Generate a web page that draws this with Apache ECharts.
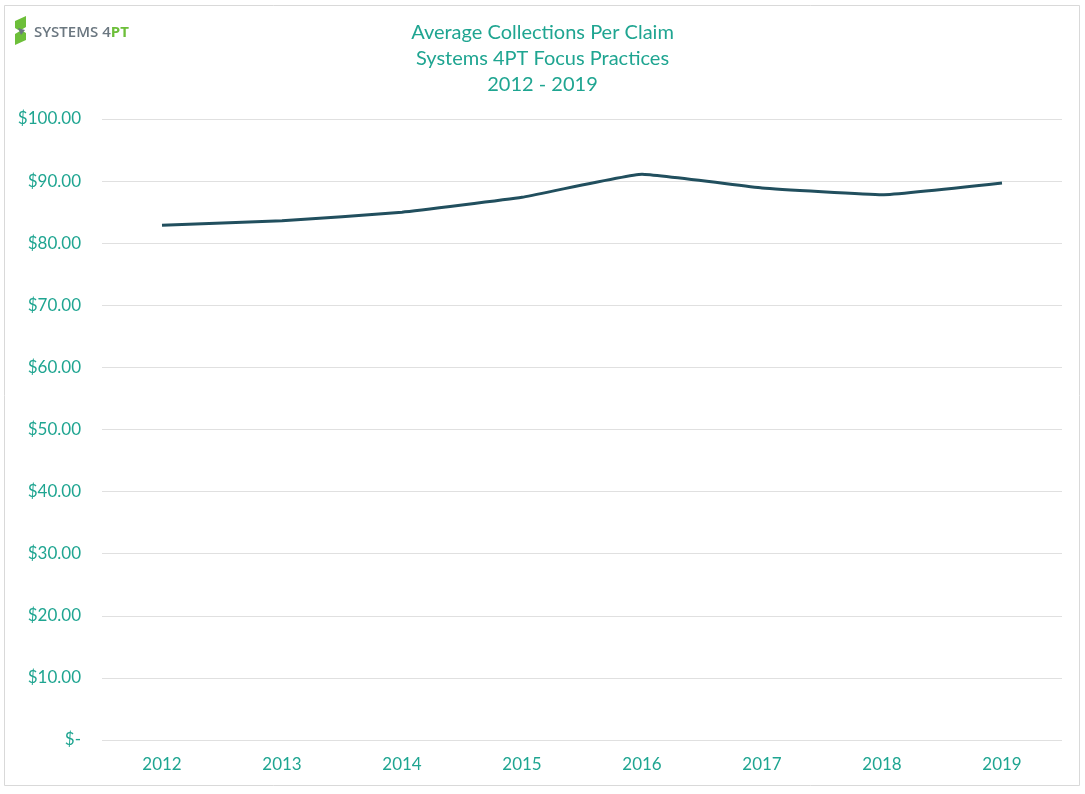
<!DOCTYPE html>
<html><head><meta charset="utf-8">
<script src="https://cdn.jsdelivr.net/npm/echarts@6/dist/echarts.min.js"></script>
<style>html,body{margin:0;padding:0;background:#fff}#c{width:1085px;height:794px}</style>
</head><body><div id="c"></div>
<script>
const years = ['2012','2013','2014','2015','2016','2017','2018','2019'];
const avgCollections = [82.9, 83.6, 85.0, 87.4, 91.1, 88.9, 87.8, 89.7];
const titleLines = ['Average Collections Per Claim','Systems 4PT Focus Practices','2012 - 2019'];
const teal = '#1fa591';
const chart = echarts.init(document.getElementById('c'));
chart.setOption({
  animation:false,
  backgroundColor:'#fff',
  title:{text:titleLines.join('\n'),left:'center',top:15,textStyle:{color:teal,fontFamily:'Lato',fontSize:20,fontWeight:'normal',lineHeight:26}},
  grid:{left:102,right:23,top:119,bottom:54},
  xAxis:{type:'category',data:years,boundaryGap:true,axisLine:{show:false},axisTick:{show:false},
    axisLabel:{color:teal,fontFamily:'Lato',fontSize:17,margin:16}},
  yAxis:{type:'value',min:0,max:100,interval:10,
    axisLabel:{color:teal,fontFamily:'Lato',fontSize:17,margin:21,formatter:v=>v===0?'$-':'$'+v.toFixed(2)},
    splitLine:{lineStyle:{color:'#e0e0e0',width:1}},axisLine:{show:false},axisTick:{show:false}},
  series:[{type:'line',data:avgCollections,symbol:'none',smooth:0.1,lineStyle:{color:'#214f5e',width:3}}],
  graphic:[
    {type:'rect',shape:{x:4.5,y:5.5,width:1075,height:780},style:{fill:'none',stroke:'#d9d9d9',lineWidth:1},silent:true},
    {type:'polygon',shape:{points:[[15,21],[26,16],[26,27],[21,30],[26,33],[26,40],[15,45],[15,34],[20,31],[15,28]]},style:{fill:'#6dbf3a'}},
    {type:'polygon',shape:{points:[[18,28],[25,30],[21,35]]},style:{fill:'#6b7780'}},
    {type:'text',left:34,top:25,style:{rich:{a:{fill:'#6b7780',font:'600 15px "Open Sans"'},b:{fill:'#6dbf3a',font:'bold 15px "Open Sans"'}},text:'{a|SYSTEMS 4}{b|PT}'}}
  ]
});
</script></body></html>
